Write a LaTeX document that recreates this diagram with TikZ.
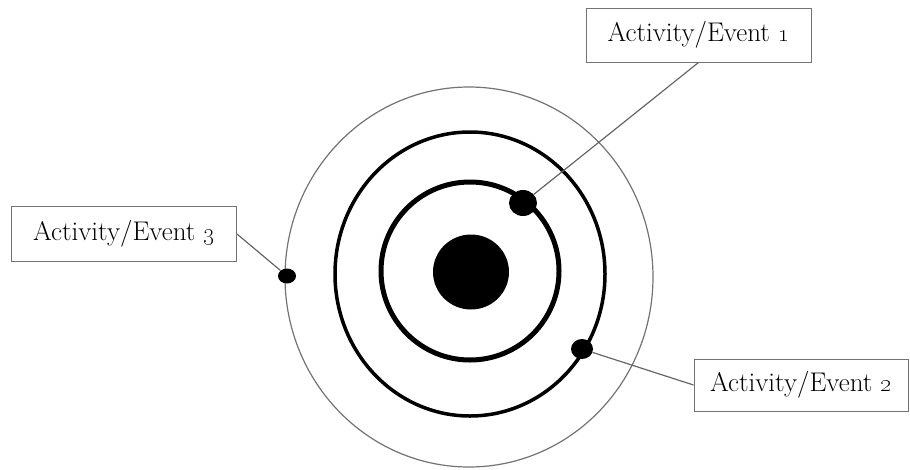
\documentclass[tikz,border=0pt]{standalone}
\usetikzlibrary{shapes.geometric}
\begin{document}
\begin{tikzpicture}[x=1pt,y=-1pt]
\tikzset{
  lbl/.style={draw=black!55, line width=1pt, fill=white, inner sep=0pt,
              font=\fontsize{27}{30}\selectfont},
  conn/.style={draw=black!60, line width=1.2pt},
  dotnode/.style={ellipse, fill=black, inner sep=0pt},
  ring/.style={draw=black}
}
\useasboundingbox (0,0) rectangle (910,469);
% rings
\draw[ring, draw=black!55, line width=1.2pt] (469,277) ellipse [x radius=184, y radius=190];
\draw[ring, line width=3.5pt] (470,274) ellipse [x radius=135, y radius=142];
\draw[ring, line width=5pt] (470,271) ellipse [x radius=89, y radius=89];
\node[dotnode, minimum width=76pt, minimum height=75pt] (core) at (471,272) {};
% event dots
\node[dotnode, minimum width=28pt, minimum height=26pt] (d1) at (523,203) {};
\node[dotnode, minimum width=22pt, minimum height=20pt] (d2) at (582,349) {};
\node[dotnode, minimum width=18pt, minimum height=15pt] (d3) at (287,276) {};
% labels
\node[lbl, minimum width=225pt, minimum height=54pt] (b1) at (698.5,35) {Activity/Event \oldstylenums{1}};
\node[lbl, minimum width=225pt, minimum height=55pt] (b3) at (124,234) {Activity/Event \oldstylenums{3}};
\node[lbl, minimum width=214pt, minimum height=52pt] (b2) at (801,385) {Activity/Event \oldstylenums{2}};
% connectors
\draw[conn] (b1.south) -- (d1);
\draw[conn] (b2.west) -- (d2);
\draw[conn] (b3.east) -- (d3);
\end{tikzpicture}
\end{document}
